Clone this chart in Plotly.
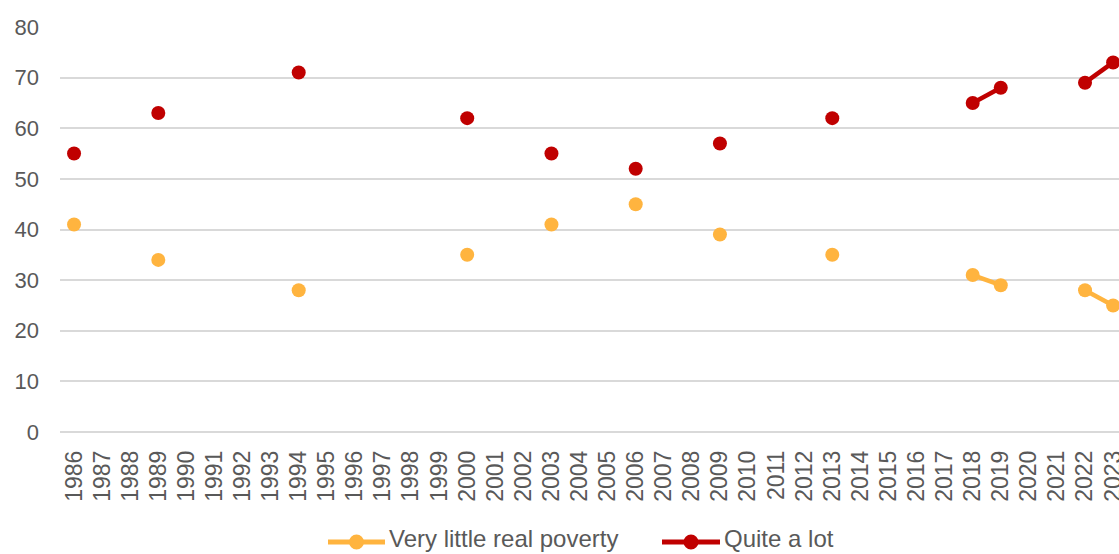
import plotly.graph_objects as go

years = list(range(1986, 2024))

# Survey waves and shares (%)
survey_years = [1986, 1989, 1994, 2000, 2003, 2006, 2009, 2013, 2018, 2019, 2022, 2023]
very_little = [41, 34, 28, 35, 41, 45, 39, 35, 31, 29, 28, 25]
quite_a_lot = [55, 63, 71, 62, 55, 52, 57, 62, 65, 68, 69, 73]

series_names = ["Very little real poverty", "Quite a lot"]


def on_all_years(values):
    lookup = dict(zip(survey_years, values))
    return [lookup.get(y) for y in years]


ORANGE = "#FFB43F"
RED = "#C00000"
TEXT = "#595959"
GRID = "#D9D9D9"
FONT = "Liberation Sans, Arial, sans-serif"

W, H = 1119, 554
ML, MR, MT, MB = 60, 0, 27, 122
PW = W - ML - MR
PH = H - MT - MB

fig = go.Figure()
for name, vals, col in [(series_names[0], very_little, ORANGE),
                        (series_names[1], quite_a_lot, RED)]:
    fig.add_trace(go.Scatter(
        x=years, y=on_all_years(vals), name=name,
        mode="lines+markers", connectgaps=False, showlegend=False,
        line=dict(color=col, width=4.5), marker=dict(color=col, size=14),
    ))


def px_x(px):
    return (px - ML) / PW


def px_y(py):
    return (H - MB - py) / PH


# Legend below the plot: a line with a centred dot, then the label
line_y = px_y(542)
text_y = px_y(538)
legend_items = [(series_names[0], ORANGE, 328, 385), (series_names[1], RED, 662, 720)]
for name, col, x0, x1 in legend_items:
    fig.add_shape(type="line", xref="paper", yref="paper",
                  x0=px_x(x0), x1=px_x(x1), y0=line_y, y1=line_y,
                  line=dict(color=col, width=5))
    fig.add_shape(type="circle", xref="paper", yref="paper",
                  xsizemode="pixel", ysizemode="pixel",
                  xanchor=px_x((x0 + x1) / 2), yanchor=line_y,
                  x0=-7.5, x1=7.5, y0=-7.5, y1=7.5,
                  line=dict(width=0), fillcolor=col)
    fig.add_annotation(text=name, xref="paper", yref="paper",
                       x=px_x(x1 + 2), y=text_y, xanchor="left", yanchor="middle",
                       showarrow=False, font=dict(size=24, color=TEXT, family=FONT))

fig.update_layout(
    width=W, height=H,
    margin=dict(l=ML, r=MR, t=MT, b=MB, autoexpand=False),
    paper_bgcolor="white", plot_bgcolor="white",
    font=dict(family=FONT, color=TEXT, size=22),
    showlegend=False,
    xaxis=dict(
        range=[1985.5, 2023.21], tickmode="array", tickvals=years,
        ticktext=[str(y) for y in years], tickangle=-90,
        showgrid=False, zeroline=False, showline=False, ticks="",
        ticklabelstandoff=13, ticklabeloverflow="allow",
        tickfont=dict(size=23, color=TEXT), fixedrange=True,
    ),
    yaxis=dict(
        range=[0, 80], tickmode="linear", tick0=0, dtick=10,
        showgrid=True, gridcolor=GRID, gridwidth=2,
        zeroline=True, zerolinecolor=GRID, zerolinewidth=2,
        showline=False, ticks="", ticklabelstandoff=20,
        tickfont=dict(size=22, color=TEXT), fixedrange=True,
    ),
)

fig.write_html("out.html", config={"displayModeBar": False})
